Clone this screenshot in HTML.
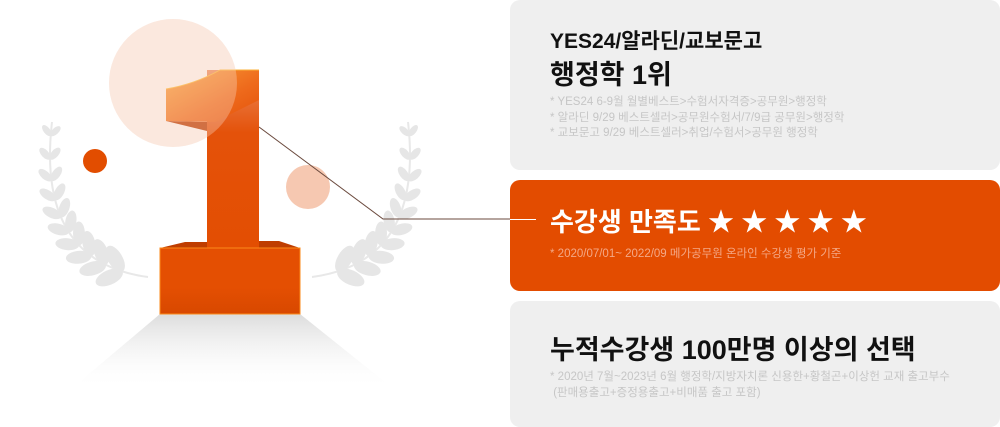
<!DOCTYPE html>
<html><head><meta charset="utf-8">
<style>
html,body{margin:0;padding:0;background:#fff;}
body{width:1000px;height:427px;position:relative;overflow:hidden;font-family:"Liberation Sans","Noto Sans CJK KR",sans-serif;}
.box{position:absolute;left:510px;width:490px;border-radius:10px;}
.t{position:absolute;left:40px;font-weight:bold;white-space:nowrap;}
.n{position:absolute;left:40px;font-size:11.5px;line-height:15.5px;white-space:nowrap;}
</style></head><body>
<svg width="1000" height="427" style="position:absolute;left:0;top:0">
<defs>
<linearGradient id="sh" x1="0" y1="0" x2="0" y2="1"><stop offset="0" stop-color="#dcdcdc"/><stop offset="1" stop-color="#fff" stop-opacity="0"/></linearGradient>
<linearGradient id="og" x1="0" y1="0" x2="1" y2="1"><stop offset="0" stop-color="#f9a13a"/><stop offset="0.6" stop-color="#ee6a1c"/><stop offset="1" stop-color="#e4520a"/></linearGradient>
<linearGradient id="st" x1="0" y1="0" x2="0" y2="1"><stop offset="0" stop-color="#ec8a5a"/><stop offset="0.35" stop-color="#e4520a"/><stop offset="1" stop-color="#e34e02"/></linearGradient>
<linearGradient id="bs" x1="0" y1="0" x2="0" y2="1"><stop offset="0" stop-color="#e44f02"/><stop offset="0.6" stop-color="#e44f02"/><stop offset="1" stop-color="#d84800"/></linearGradient>
</defs>
<g id="laurel" fill="#e6e6e6"></g>
<polygon points="160,314 300,314 395,390 70,390" fill="url(#sh)"/>
<circle cx="173" cy="83" r="64" fill="#fbe9df"/>
<circle cx="95" cy="161" r="12" fill="#e24d00"/>
<polygon points="166,121 207,131 207,122" fill="#bf3d00"/>
<polygon points="160,248 185,242 207,242 207,248" fill="#bf3d00"/>
<polygon points="259,241 279,241 300,248 259,248" fill="#bf3d00"/>
<rect x="207" y="70" width="52" height="179" fill="url(#st)"/>
<path d="M166,89 Q195,84 220,70 L259,70 L259,100 L215,122 L166,121 Z" fill="url(#og)"/>
<rect x="160" y="248" width="140" height="66" fill="url(#bs)" stroke="#fb8a1a" stroke-width="1"/>
<path d="M166,89 Q195,84 220,70 L259,70" fill="none" stroke="#fbb23a" stroke-width="1"/>
<circle cx="173" cy="83" r="64" fill="#fbe9df" opacity="0.3"/>
<circle cx="308" cy="187" r="22" fill="#f6c8b1"/>
<polyline points="259,127 383,219 510,219" fill="none" stroke="#6b4a3e" stroke-width="1"/>
</svg>
<script>
(function(){
var g=document.getElementById('laurel');var ns='http://www.w3.org/2000/svg';
var P0=[52,122],P1=[36,262],P2=[148,277];
function pt(t){var a=(1-t)*(1-t),b=2*(1-t)*t,c=t*t;return [a*P0[0]+b*P1[0]+c*P2[0],a*P0[1]+b*P1[1]+c*P2[1]];}
function build(par){
 var s=document.createElementNS(ns,'path');s.setAttribute('d','M52,122 Q36,262 148,277');s.setAttribute('fill','none');s.setAttribute('stroke','#e8e8e8');s.setAttribute('stroke-width','2');par.appendChild(s);
 for(var i=0;i<10;i++){var t=0.05+i*0.092;var p=pt(t),q=pt(t-0.01);var ang=Math.atan2(q[1]-p[1],q[0]-p[0])*180/Math.PI;
  var sz=6.5+i*0.9;
  [-1,1].forEach(function(sd){var e=document.createElementNS(ns,'ellipse');var a=ang+sd*42;
   var r=a*Math.PI/180;var cx=p[0]+Math.cos(r)*sz,cy=p[1]+Math.sin(r)*sz;
   e.setAttribute('cx',cx);e.setAttribute('cy',cy);e.setAttribute('rx',sz);e.setAttribute('ry',sz*0.5);
   e.setAttribute('transform','rotate('+a+' '+cx+' '+cy+')');par.appendChild(e);});
 }}
var l=document.createElementNS(ns,'g');build(l);g.appendChild(l);
var r=document.createElementNS(ns,'g');r.setAttribute('transform','translate(460,0) scale(-1,1)');build(r);g.appendChild(r);
})();
</script>
<div class="box" style="top:0;height:170px;background:#efefef;">
 <div class="t" style="top:25px;font-size:21px;color:#111;">YES24/알라딘/교보문고</div>
 <div class="t" style="top:53px;font-size:27px;color:#111;">행정학 1위</div>
 <div class="n" style="top:95px;color:#c6c6c6;">* YES24 6-9월 월별베스트&gt;수험서자격증&gt;공무원&gt;행정학<br>* 알라딘 9/29 베스트셀러&gt;공무원수험서/7/9급 공무원&gt;행정학<br>* 교보문고 9/29 베스트셀러&gt;취업/수험서&gt;공무원 행정학</div>
</div>
<div class="box" style="top:180px;height:111px;background:#e34c00;">
 <div style="position:absolute;left:0;top:39px;width:26px;height:1px;background:#fff;"></div>
 <div class="t" style="top:22px;font-size:26px;color:#fff;">수강생 만족도 ★ ★ ★ ★ ★</div>
 <div class="n" style="top:67px;color:#f4a886;">* 2020/07/01~ 2022/09 메가공무원 온라인 수강생 평가 기준</div>
</div>
<div class="box" style="top:301px;height:126px;background:#efefef;">
 <div class="t" style="top:27px;font-size:27px;color:#111;">누적수강생 100만명 이상의 선택</div>
 <div class="n" style="top:69px;color:#c6c6c6;">* 2020년 7월~2023년 6월 행정학/지방자치론 신용한+황철곤+이상헌 교재 출고부수<br>&nbsp;(판매용출고+증정용출고+비매품 출고 포함)</div>
</div>
</body></html>
